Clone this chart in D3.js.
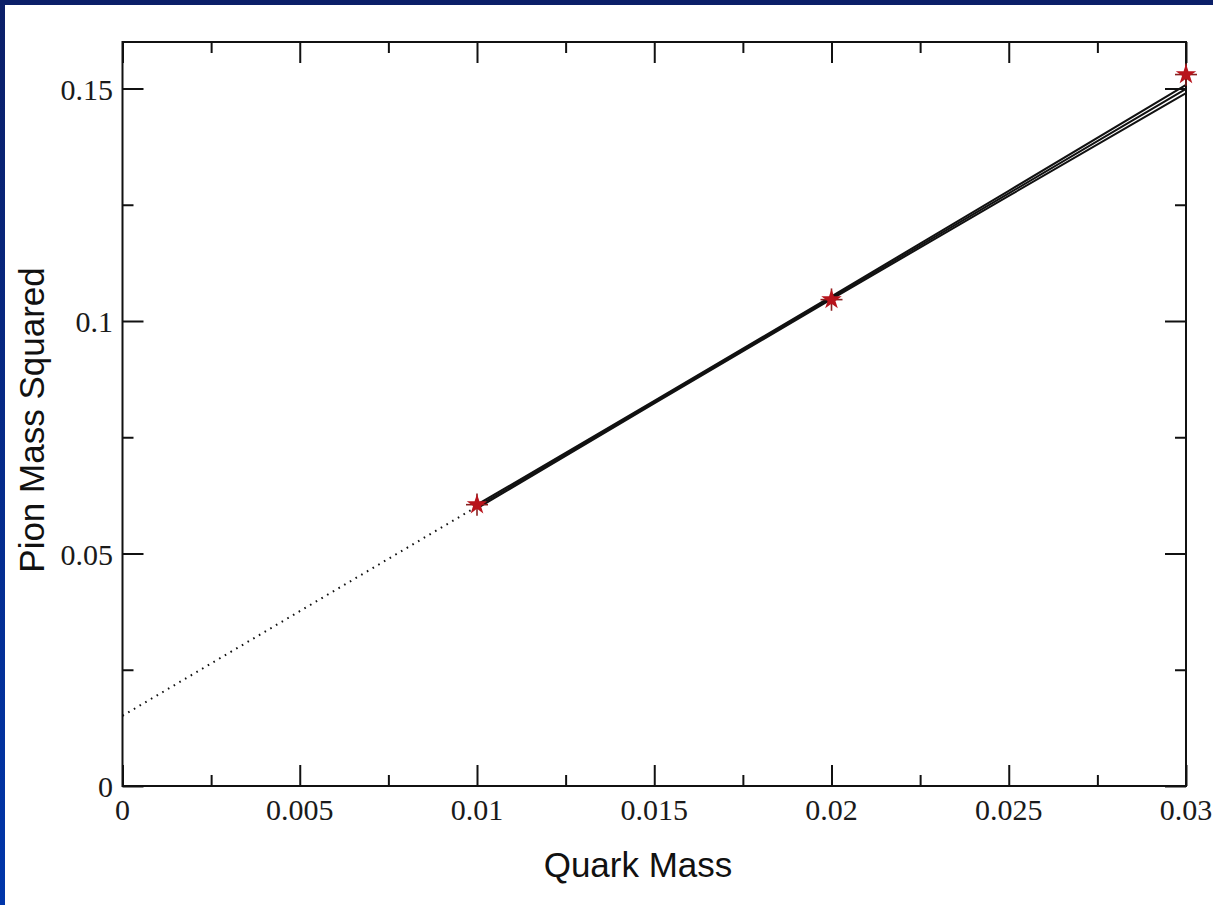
<!DOCTYPE html>
<html>
<head>
<meta charset="utf-8">
<script src="https://cdn.jsdelivr.net/npm/d3@7"></script>
<style>
  body { margin: 0; padding: 0; background: #0a2a8c; }
  svg { display: block; }
</style>
</head>
<body>
<div id="chart"></div>
<script>
// measured points (quark mass, pion mass squared)
const quarkMass = [0.01, 0.02, 0.03];
const pionMassSq = [0.0605, 0.1046, 0.1530];
const pionErr = [0.0024, 0.0024, 0.0024];

// fit line with its error band
const fitX = [0.01, 0.015, 0.02, 0.025, 0.03];
const fitCentral = [0.0601, 0.08255, 0.1050, 0.12745, 0.1499];
const fitUpper = [0.0605, 0.0828, 0.1053, 0.1280, 0.1508];
const fitLower = [0.0597, 0.0823, 0.1047, 0.1269, 0.1490];

// dotted extrapolation to zero quark mass
const extrapX = [0, 0.01];
const extrapY = [0.0151, 0.0601];

const xMajor = [0, 0.005, 0.01, 0.015, 0.02, 0.025, 0.03];
const xLabels = ["0", "0.005", "0.01", "0.015", "0.02", "0.025", "0.03"];
const xMinor = [0.0025, 0.0075, 0.0125, 0.0175, 0.0225, 0.0275];
const yMajor = [0, 0.05, 0.1, 0.15];
const yLabels = ["0", "0.05", "0.1", "0.15"];
const yMinor = [0.025, 0.075, 0.125];

const W = 1213, H = 905;
const plot = {left: 122.5, right: 1186, top: 42, bottom: 786};

const svg = d3.select("#chart").append("svg")
    .attr("width", W)
    .attr("height", H);

// slide style frame
const grad = svg.append("defs").append("linearGradient")
    .attr("id", "frame")
    .attr("x1", 0).attr("y1", 0).attr("x2", 0).attr("y2", 1);
grad.append("stop").attr("offset", "0%").attr("stop-color", "#0b1f68");
grad.append("stop").attr("offset", "100%").attr("stop-color", "#0036aa");

svg.append("rect").attr("width", W).attr("height", H).attr("fill", "url(#frame)");
svg.append("rect").attr("x", 5).attr("y", 5).attr("width", W - 5).attr("height", H - 5).attr("fill", "#fff");

const x = d3.scaleLinear().domain([0, 0.03]).range([plot.left, plot.right]);
const y = d3.scaleLinear().domain([0, 0.16]).range([plot.bottom, plot.top]);

const axisColor = "#111";

// ticks on all four sides, pointing inward
function ticks(axisFn, scale, vals, size, transform) {
    svg.append("g")
        .attr("transform", transform)
        .call(axisFn(scale).tickValues(vals).tickSize(size).tickFormat(""))
        .call(g => g.select(".domain").remove())
        .call(g => g.selectAll("line").attr("stroke", axisColor).attr("stroke-width", 2));
}
ticks(d3.axisTop, x, xMajor, 21, `translate(0,${plot.bottom})`);
ticks(d3.axisTop, x, xMinor, 11, `translate(0,${plot.bottom})`);
ticks(d3.axisBottom, x, xMajor, 21, `translate(0,${plot.top})`);
ticks(d3.axisBottom, x, xMinor, 11, `translate(0,${plot.top})`);
ticks(d3.axisRight, y, yMajor, 21, `translate(${plot.left},0)`);
ticks(d3.axisRight, y, yMinor, 11, `translate(${plot.left},0)`);
ticks(d3.axisLeft, y, yMajor, 21, `translate(${plot.right},0)`);
ticks(d3.axisLeft, y, yMinor, 11, `translate(${plot.right},0)`);

svg.append("rect")
    .attr("x", plot.left).attr("y", plot.top)
    .attr("width", plot.right - plot.left).attr("height", plot.bottom - plot.top)
    .attr("fill", "none").attr("stroke", axisColor).attr("stroke-width", 2);

// tick labels
const serif = "'Liberation Serif', 'Times New Roman', serif";
svg.append("g").selectAll("text")
    .data(xMajor)
    .join("text")
    .attr("x", d => x(d))
    .attr("y", 820)
    .attr("text-anchor", "middle")
    .style("font-family", serif)
    .style("font-size", "30px")
    .attr("fill", "#1a1a1a")
    .text((d, i) => xLabels[i]);

svg.append("g").selectAll("text")
    .data(yMajor)
    .join("text")
    .attr("x", 113)
    .attr("y", d => y(d) + 11)
    .attr("text-anchor", "end")
    .style("font-family", serif)
    .style("font-size", "30px")
    .attr("fill", "#1a1a1a")
    .text((d, i) => yLabels[i]);

// axis titles
const sans = "'Liberation Sans', Arial, sans-serif";
svg.append("text")
    .attr("x", 638)
    .attr("y", 877)
    .attr("text-anchor", "middle")
    .style("font-family", sans)
    .style("font-size", "35px")
    .attr("fill", "#111")
    .text("Quark Mass");

svg.append("text")
    .attr("transform", "translate(44,420) rotate(-90)")
    .attr("text-anchor", "middle")
    .style("font-family", sans)
    .style("font-size", "35px")
    .attr("fill", "#111")
    .text("Pion Mass Squared");

// lines
const line = d3.line().x(d => x(d[0])).y(d => y(d[1]));

svg.append("path")
    .datum(d3.zip(extrapX, extrapY))
    .attr("d", line)
    .attr("fill", "none")
    .attr("stroke", "#111")
    .attr("stroke-width", 2)
    .attr("stroke-dasharray", "1.6 5");

[fitUpper, fitCentral, fitLower].forEach(vals => {
    svg.append("path")
        .datum(d3.zip(fitX, vals))
        .attr("d", line)
        .attr("fill", "none")
        .attr("stroke", "#111")
        .attr("stroke-width", 2);
});

// data points with error bars
const pts = svg.append("g").selectAll("g")
    .data(d3.range(quarkMass.length))
    .join("g")
    .attr("transform", i => `translate(${x(quarkMass[i])},${y(pionMassSq[i])})`);

pts.append("line")
    .attr("x1", 0).attr("x2", 0)
    .attr("y1", i => y(pionMassSq[i] + pionErr[i]) - y(pionMassSq[i]))
    .attr("y2", i => y(pionMassSq[i] - pionErr[i]) - y(pionMassSq[i]))
    .attr("stroke", "#8a2020").attr("stroke-width", 1.6);

pts.append("line")
    .attr("x1", -11).attr("x2", 11)
    .attr("y1", 0).attr("y2", 0)
    .attr("stroke", "#8a2020").attr("stroke-width", 1.6);

pts.append("path")
    .attr("d", d3.symbol().type(d3.symbolStar).size(130))
    .attr("fill", "#b8141c");
</script>
</body>
</html>
